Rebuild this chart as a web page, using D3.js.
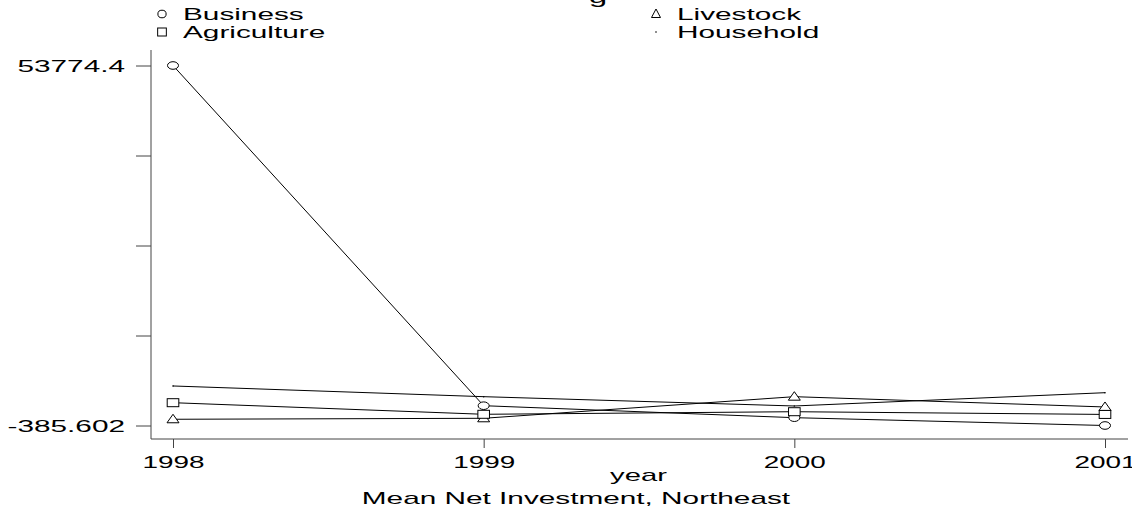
<!DOCTYPE html>
<html>
<head>
<meta charset="utf-8">
<script src="https://cdn.jsdelivr.net/npm/d3@7"></script>
<style>
  body { margin: 0; background: #fff; }
  text { font-family: "Liberation Sans", Arial, Helvetica, sans-serif; fill: #000; }
</style>
</head>
<body>
<div id="chart"></div>
<script>
// data
var years = [1998, 1999, 2000, 2001];
var business = [53774.4, 2593, 790, -385.602];
var livestock = [550, 700, 3950, 2400];
var agriculture = [3045, 1300, 1690, 1280];
var household = [5560, 3950, 2550, 4550];
var yMin = -385.602, yMax = 53774.4;
var yTickLabels = ["-385.602", "", "", "", "53774.4"];

var svgWidth = 1132, svgHeight = 512;
var stretch = 1.75; // text in the picture is wide

var svg = d3.select("#chart").append("svg")
  .attr("width", svgWidth)
  .attr("height", svgHeight);

var x = d3.scaleLinear().domain([1998, 2001]).range([173, 1105]);
var y = d3.scaleLinear().domain([yMin, yMax]).range([425.5, 65.5]);

function widen(sel, k) {
  sel.each(function() {
    var w = this.getComputedTextLength();
    d3.select(this).attr("textLength", w * k).attr("lengthAdjust", "spacingAndGlyphs");
  });
}

// axes
var yTicks = yTickLabels.map((d, i) => yMin + (yMax - yMin) * i / (yTickLabels.length - 1));
var yAxis = svg.append("g")
  .attr("transform", "translate(151,0)")
  .call(d3.axisLeft(y).tickValues(yTicks).tickSize(15).tickPadding(11)
    .tickFormat((d, i) => yTickLabels[i]));
yAxis.select(".domain").remove();
yAxis.selectAll("line").attr("stroke", "#444");
yAxis.selectAll("text").attr("font-size", 17).attr("dy", "0.36em")
  .attr("font-family", null);
widen(yAxis.selectAll("text"), stretch);

var xAxis = svg.append("g")
  .attr("transform", "translate(0,439)")
  .call(d3.axisBottom(x).tickValues(years).tickSize(9).tickPadding(8)
    .tickFormat(d3.format("d")));
xAxis.select(".domain").remove();
xAxis.selectAll("line").attr("stroke", "#444");
xAxis.selectAll("text").attr("font-size", 16.5).attr("font-family", null);
widen(xAxis.selectAll("text"), 1.69);

svg.append("line").attr("x1", 151).attr("x2", 151).attr("y1", 50).attr("y2", 439)
  .attr("stroke", "#444");
svg.append("line").attr("x1", 151).attr("x2", 1128).attr("y1", 439).attr("y2", 439)
  .attr("stroke", "#444");

// series
var series = [
  { name: "Business", values: business, marker: "circle" },
  { name: "Livestock", values: livestock, marker: "triangle" },
  { name: "Agriculture", values: agriculture, marker: "square" },
  { name: "Household", values: household, marker: "dot" }
];

var line = d3.line().x((d, i) => x(years[i])).y(d => y(d));

series.forEach(function(s) {
  svg.append("path")
    .attr("d", line(s.values))
    .attr("fill", "none")
    .attr("stroke", "#000")
    .attr("stroke-width", 1);
});

function drawMarker(g, type, cx, cy, sx, sy) {
  if (type === "circle") {
    g.append("ellipse").attr("cx", cx).attr("cy", cy).attr("rx", 5.5 * sx).attr("ry", 3.8 * sy)
      .attr("fill", "#fff").attr("stroke", "#000");
  } else if (type === "square") {
    g.append("rect").attr("x", cx - 5.8 * sx).attr("y", cy - 4 * sy)
      .attr("width", 11.6 * sx).attr("height", 8 * sy)
      .attr("fill", "#fff").attr("stroke", "#000");
  } else if (type === "triangle") {
    g.append("path")
      .attr("d", `M${cx - 6 * sx},${cy + 3.5 * sy}L${cx + 6 * sx},${cy + 3.5 * sy}L${cx},${cy - 5 * sy}Z`)
      .attr("fill", "#fff").attr("stroke", "#000");
  } else {
    g.append("circle").attr("cx", cx).attr("cy", cy).attr("r", 0.8).attr("fill", "#000");
  }
}

var markers = svg.append("g");
series.forEach(function(s) {
  s.values.forEach(function(v, i) {
    drawMarker(markers, s.marker, x(years[i]), y(v), 1, 1);
  });
});

// legend
var legendPos = {
  Business: [162, 14], Livestock: [656, 14],
  Agriculture: [162, 32], Household: [656, 32]
};
var legend = svg.append("g");
series.forEach(function(s) {
  var p = legendPos[s.name];
  drawMarker(legend, s.marker, p[0], p[1], 0.75, 1);
  legend.append("text")
    .attr("x", p[0] + 21).attr("y", p[1] + 6)
    .attr("font-size", 17)
    .text(s.name);
});
widen(legend.selectAll("text"), stretch);

// title clipped at the top edge, only its descender shows
var title = svg.append("text").attr("x", 598).attr("y", 3).attr("text-anchor", "middle")
  .attr("font-size", 19).text("g");
widen(title, stretch);

var yearLabel = svg.append("text").attr("x", 638.5).attr("y", 481)
  .attr("text-anchor", "middle").attr("font-size", 17).text("year");
widen(yearLabel, 1.72);

var note = svg.append("text").attr("x", 576).attr("y", 504)
  .attr("text-anchor", "middle").attr("font-size", 17).text("Mean Net Investment, Northeast");
widen(note, stretch);
</script>
</body>
</html>
